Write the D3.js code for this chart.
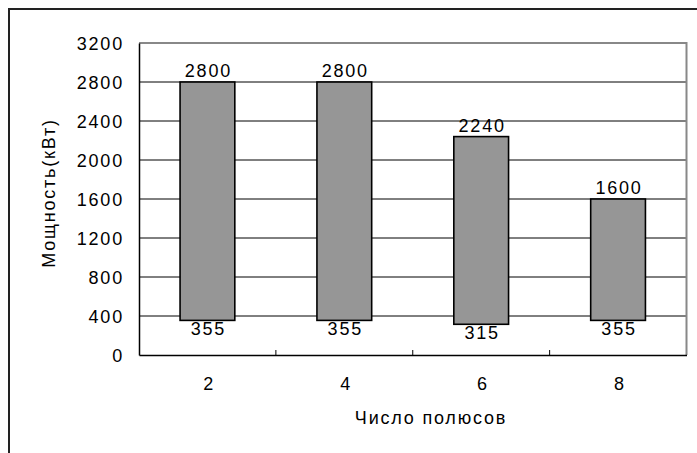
<!DOCTYPE html>
<html>
<head>
<meta charset="utf-8">
<script src="https://cdn.jsdelivr.net/npm/d3@7"></script>
<style>
  html, body { margin: 0; padding: 0; background: #fff; }
  svg { display: block; }
  text { font-family: "Liberation Sans", Arial, sans-serif; font-size: 18px; letter-spacing: 1.8px; fill: #000; }
</style>
</head>
<body>
<script>
const categories = ["2", "4", "6", "8"];
const maxValues = [2800, 2800, 2240, 1600];
const minValues = [355, 355, 315, 355];
const yTicks = [0, 400, 800, 1200, 1600, 2000, 2400, 2800, 3200];
const xTitle = "Число полюсов";
const yTitle = "Мощность(кВт)";

const W = 697, H = 453;
const plot = { left: 139, right: 686.5, top: 43, bottom: 355 };

const svg = d3.select("body").append("svg").attr("width", W).attr("height", H);

// outer frame
svg.append("rect").attr("x", 9).attr("y", 9).attr("width", W + 20).attr("height", H + 20)
  .attr("fill", "none").attr("stroke", "#222").attr("stroke-width", 2);

const x = d3.scaleBand().domain(categories).range([plot.left, plot.right]).padding(0);
const y = d3.scaleLinear().domain([0, 3200]).range([plot.bottom, plot.top]);

// gridlines
svg.append("g").selectAll("line").data(yTicks.filter(t => t > 0 && t < 3200)).join("line")
  .attr("x1", plot.left).attr("x2", plot.right)
  .attr("y1", d => y(d)).attr("y2", d => y(d))
  .attr("stroke", "#000").attr("stroke-width", 1);

// plot border top/right (gray)
svg.append("path")
  .attr("d", `M${plot.left},${y(3200)}H${plot.right}V${plot.bottom}`)
  .attr("fill", "none").attr("stroke", "#888").attr("stroke-width", 2);

// y axis
const yAxis = d3.axisLeft(y).tickValues(yTicks).tickFormat(d3.format("d")).tickSize(0).tickPadding(15);
const gy = svg.append("g").attr("transform", `translate(${plot.left},0)`).call(yAxis);
gy.select(".domain").attr("stroke", "#000").attr("stroke-width", 1.5);
gy.selectAll("text").attr("font-size", null).attr("font-family", null).attr("dy", "0.36em");

// x axis
const xAxis = d3.axisBottom(x).tickSize(0).tickPadding(22);
const gx = svg.append("g").attr("transform", `translate(0,${plot.bottom})`).call(xAxis);
gx.select(".domain").attr("stroke", "#000").attr("stroke-width", 1.5);
gx.selectAll("text").attr("font-size", null).attr("font-family", null).attr("dx", "0.1em");

// inner tick marks at category boundaries
svg.append("g").selectAll("line").data(categories.slice(1)).join("line")
  .attr("x1", d => x(d)).attr("x2", d => x(d))
  .attr("y1", plot.bottom).attr("y2", plot.bottom - 5)
  .attr("stroke", "#000").attr("stroke-width", 1);

// floating bars
const data = categories.map((c, i) => ({ c, max: maxValues[i], min: minValues[i] }));
const bw = x.bandwidth() * 0.4;
svg.append("g").selectAll("rect").data(data).join("rect")
  .attr("x", d => x(d.c) + x.bandwidth() / 2 - bw / 2)
  .attr("width", bw)
  .attr("y", d => y(d.max))
  .attr("height", d => y(d.min) - y(d.max))
  .attr("fill", "#969696").attr("stroke", "#000").attr("stroke-width", 1.6);

// max labels
svg.append("g").selectAll("text").data(data).join("text")
  .attr("x", d => x(d.c) + x.bandwidth() / 2 + 1)
  .attr("y", d => y(d.max) - 5)
  .attr("text-anchor", "middle")
  .text(d => d.max);

// min labels
svg.append("g").selectAll("text").data(data).join("text")
  .attr("x", d => x(d.c) + x.bandwidth() / 2 + 1)
  .attr("y", d => y(d.min) + 15)
  .attr("text-anchor", "middle")
  .text(d => d.min);

// axis titles
svg.append("text").attr("x", 431).attr("y", 424).attr("text-anchor", "middle").text(xTitle);
svg.append("text").attr("transform", `translate(55,${(plot.top + plot.bottom) / 2 - 6}) rotate(-90)`)
  .attr("text-anchor", "middle").text(yTitle);
</script>
</body>
</html>
